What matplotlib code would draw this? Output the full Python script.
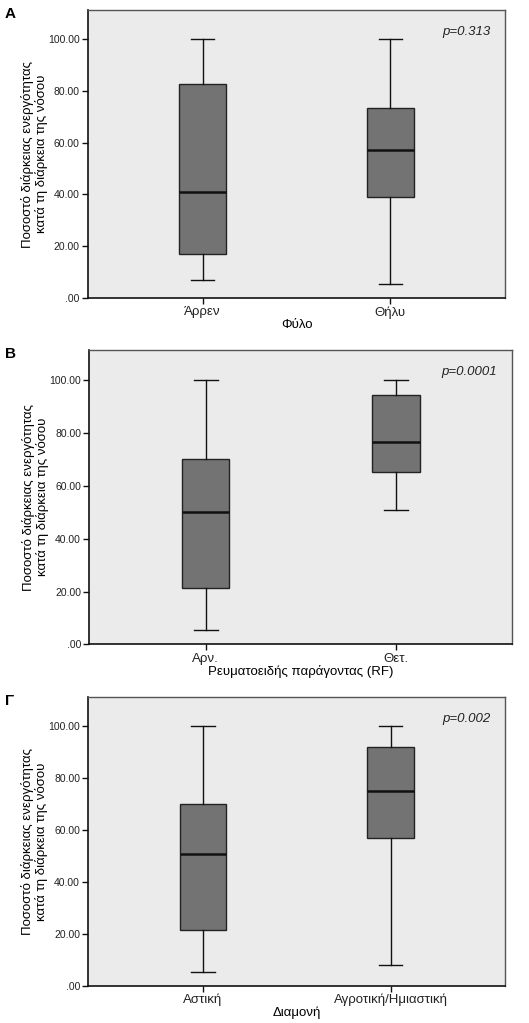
import matplotlib.pyplot as plt

plt.rcParams['font.family'] = ['Liberation Sans', 'DejaVu Sans']

ylabel_text = "Ποσοστό διάρκειας ενεργότητας\nκατά τη διάρκεια της νόσου"

panel_letters = ["A", "B", "Γ"]
xlabels = ["Φύλο", "Ρευματοειδής παράγοντας (RF)", "Διαμονή"]
categories = [["Άρρεν", "Θήλυ"], ["Αρν.", "Θετ."], ["Αστική", "Αγροτική/Ημιαστική"]]
pvalues = ["p=0.313", "p=0.0001", "p=0.002"]

# five-number summaries per group: min, Q1, median, Q3, max
stats_A = [[7.0, 16.9, 41.0, 82.8, 100.0], [5.3, 38.9, 57.0, 73.4, 100.0]]
stats_B = [[5.3, 21.5, 50.1, 70.0, 100.0], [50.6, 65.0, 76.4, 94.3, 100.0]]
stats_C = [[5.4, 21.6, 50.9, 69.9, 100.0], [8.1, 57.1, 75.2, 91.9, 100.0]]
all_stats = [stats_A, stats_B, stats_C]

yticks = [0, 20, 40, 60, 80, 100]
ytick_labels = [".00", "20.00", "40.00", "60.00", "80.00", "100.00"]

fig = plt.figure(figsize=(5.29, 10.23), dpi=100)
rects = [[0.166, 0.7087, 0.789, 0.2815],
         [0.169, 0.370, 0.799, 0.288],
         [0.167, 0.0365, 0.788, 0.2818]]

for i in range(3):
    ax = fig.add_axes(rects[i])
    ax.set_facecolor("#ebebeb")
    bxp = []
    for name, s in zip(categories[i], all_stats[i]):
        bxp.append(dict(label=name, whislo=s[0], q1=s[1], med=s[2], q3=s[3], whishi=s[4], fliers=[]))
    ax.bxp(bxp, positions=[1, 2], widths=0.25, patch_artist=True, showfliers=False,
           boxprops=dict(facecolor="#737373", edgecolor="#222222", linewidth=1.0),
           medianprops=dict(color="#111111", linewidth=1.8),
           whiskerprops=dict(color="#111111", linewidth=1.0),
           capprops=dict(color="#111111", linewidth=1.0))
    ax.set_xlim(0.389, 2.611)
    ax.set_ylim(0, 111.2)
    ax.set_yticks(yticks)
    ax.set_yticklabels(ytick_labels)
    ax.set_xticks([1, 2])
    ax.set_xticklabels(categories[i])
    ax.tick_params(length=4, width=1, color="#111111", labelcolor="#222222", pad=2)
    ax.tick_params(axis="y", labelsize=7.5)
    ax.tick_params(axis="x", labelsize=9.5)
    for side in ["left", "bottom"]:
        ax.spines[side].set_color("#111111")
        ax.spines[side].set_linewidth(1.2)
    for side in ["top", "right"]:
        ax.spines[side].set_color("#555555")
        ax.spines[side].set_linewidth(1.0)
    ax.set_ylabel(ylabel_text, fontsize=9.5, labelpad=0, linespacing=1.1)
    ax.set_xlabel(xlabels[i], fontsize=9.5, labelpad=0)
    ax.text(0.965, 0.945, pvalues[i], transform=ax.transAxes, ha="right", va="top",
            fontsize=9.5, style="italic", color="#222222")
    ax.text(-0.2, 1.01, panel_letters[i], transform=ax.transAxes, ha="left", va="top",
            fontsize=11, fontweight="bold")

fig.savefig("out.png", dpi=100)
